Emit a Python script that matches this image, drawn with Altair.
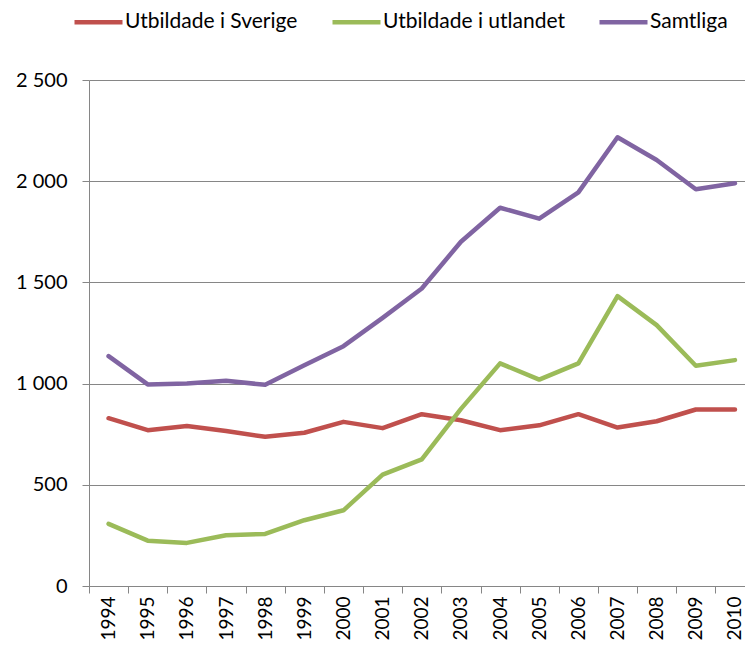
import altair as alt
import pandas as pd

years = list(range(1994, 2011))
sverige = [829, 770, 790, 766, 737, 757, 811, 780, 849, 819, 770, 794, 849, 783, 814, 872, 872]
utlandet = [307, 224, 213, 251, 257, 325, 374, 550, 626, 875, 1100, 1020, 1100, 1432, 1289, 1088, 1116]
samtliga = [1136, 996, 1001, 1014, 994, 1091, 1185, 1325, 1470, 1701, 1869, 1815, 1945, 2217, 2105, 1960, 1990]

series_names = ["Utbildade i Sverige", "Utbildade i utlandet", "Samtliga"]
series_colors = ["#C0504D", "#9BBB59", "#8064A2"]

rows = []
for name, vals in zip(series_names, [sverige, utlandet, samtliga]):
    for y, v in zip(years, vals):
        rows.append({"year": y, "value": v, "series": name})
df = pd.DataFrame(rows)

# axis positions: labels on each year, ticks between years
x_axis_values = []
for y in years:
    x_axis_values += [y - 0.5, y]

FONT = "Lato"
GRID = "#868686"

chart = alt.Chart(df).mark_line(strokeWidth=4.5, strokeCap="round", strokeJoin="round").encode(
    x=alt.X(
        "year:Q",
        scale=alt.Scale(domain=[1993.5, 2010.256], nice=False, zero=False),
        axis=alt.Axis(
            title=None, values=x_axis_values, labelAngle=-90, tickSize=7, tickColor=GRID,
            tickOpacity={"condition": {"test": "datum.value % 1 === 0", "value": 0}, "value": 1},
            domainColor=GRID, labelPadding=3, labelFont=FONT, labelFontSize=19,
            labelColor="#000000", grid=False, labelOverlap=False, labelFlush=False,
            labelExpr="datum.value % 1 === 0 ? format(datum.value, 'd') : ''",
        ),
    ),
    y=alt.Y(
        "value:Q",
        scale=alt.Scale(domain=[0, 2500], nice=False),
        axis=alt.Axis(
            title=None, values=[0, 500, 1000, 1500, 2000, 2500], tickSize=7, tickColor=GRID,
            domainColor=GRID, gridColor=GRID, gridOpacity=1, labelPadding=15,
            labelFont=FONT, labelFontSize=20, labelColor="#000000",
            labelExpr="replace(format(datum.value, ','), ',', ' ')",
        ),
    ),
    color=alt.Color(
        "series:N",
        scale=alt.Scale(domain=series_names, range=series_colors),
        sort=series_names,
        legend=alt.Legend(
            title=None, orient="none", direction="horizontal", legendX=-17, legendY=-84.5,
            symbolType="stroke", symbolSize=2304, symbolStrokeWidth=4.7,
            labelFont=FONT, labelFontSize=21, labelColor="#000000", labelOffset=0,
            labelLimit=0, columnPadding=25, padding=0,
        ),
    ),
).properties(
    width=656, height=506,
    autosize="none",
    padding={"left": 81, "top": 72, "right": 0, "bottom": 54},
).configure_view(stroke=None)

chart.save("out.html", embed_options={"renderer": "svg", "actions": False})
